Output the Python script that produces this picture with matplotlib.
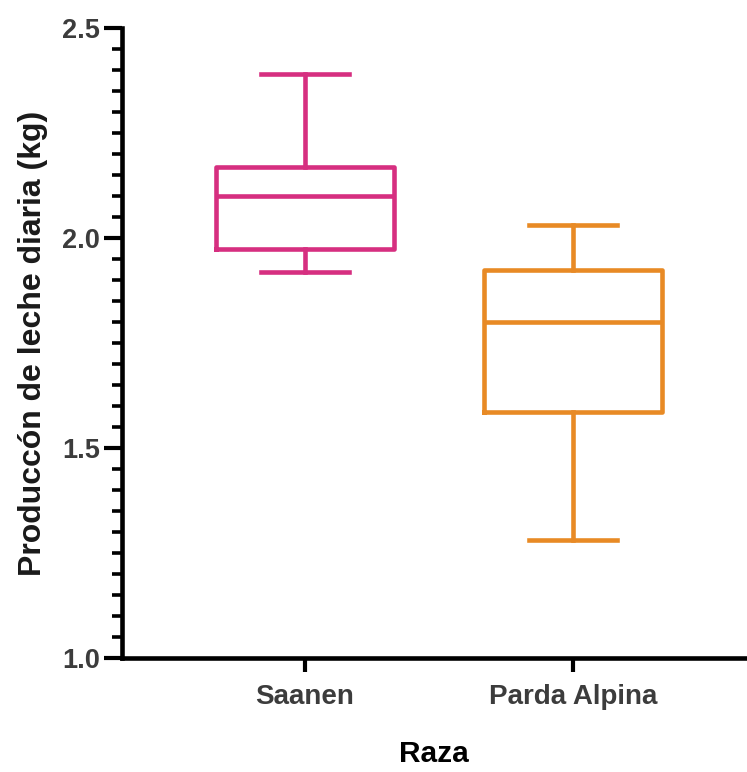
import matplotlib.pyplot as plt
from matplotlib.ticker import MultipleLocator

# box summary per breed (kg/day)
razas = ["Saanen", "Parda Alpina"]
whisker_low = [1.92, 1.28]
q1 = [1.975, 1.585]
medians = [2.10, 1.80]
q3 = [2.17, 1.925]
whisker_high = [2.39, 2.03]
colores = ["#D62F80", "#E88A25"]

plt.rcParams["font.family"] = ["Liberation Sans", "DejaVu Sans"]

fig = plt.figure(figsize=(7.47, 7.72), dpi=100)
ax = fig.add_axes([122 / 747, 114 / 772, 623 / 747, 630 / 772])

positions = [1, 2]
for i, pos in enumerate(positions):
    stats = [{
        "label": razas[i],
        "whislo": whisker_low[i],
        "q1": q1[i],
        "med": medians[i],
        "q3": q3[i],
        "whishi": whisker_high[i],
        "fliers": [],
    }]
    c = colores[i]
    lw = 3.3
    ax.bxp(stats, positions=[pos], widths=0.665, showfliers=False,
           boxprops=dict(color=c, linewidth=lw),
           medianprops=dict(color=c, linewidth=lw),
           whiskerprops=dict(color=c, linewidth=lw),
           capprops=dict(color=c, linewidth=lw),
           capwidths=0.33)

ax.set_xlim(0.317, 2.642)
ax.set_ylim(1.0, 2.5)
ax.set_xticks(positions)
ax.set_xticklabels(razas)

ax.yaxis.set_major_locator(MultipleLocator(0.5))
ax.yaxis.set_minor_locator(MultipleLocator(0.05))
ax.yaxis.set_major_formatter(lambda v, p: f"{v:.1f}")

for s in ["top", "right"]:
    ax.spines[s].set_visible(False)
for s in ["left", "bottom"]:
    ax.spines[s].set_linewidth(3.3)
    ax.spines[s].set_capstyle("projecting")

ax.tick_params(axis="y", which="major", length=13, width=3, labelsize=19.5,
               labelcolor="#3c3c3c", pad=3)
ax.tick_params(axis="y", which="minor", length=7, width=2.6)
ax.tick_params(axis="x", which="major", length=10, width=3, labelsize=20,
               labelcolor="#3c3c3c", pad=9)
for lab in ax.get_xticklabels() + ax.get_yticklabels():
    lab.set_fontweight("bold")

ax.set_xlabel("Raza", fontsize=21.5, fontweight="bold", labelpad=21)
ax.set_ylabel("Producc\u00f3n de leche diaria (kg)", fontsize=23,
              fontweight="bold", color="#1a1a1a", labelpad=10)

fig.savefig("out.png", dpi=100)
